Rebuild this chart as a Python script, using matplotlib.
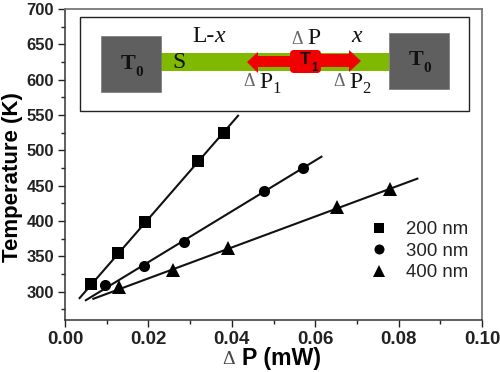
import matplotlib
matplotlib.use("Agg")
import matplotlib.pyplot as plt
from matplotlib.patches import Rectangle, FancyBboxPatch, Polygon
from matplotlib.ticker import MultipleLocator, FormatStrFormatter

# measured points
x200 = [0.0063, 0.0128, 0.0192, 0.0320, 0.0382]
t200 = [311, 355, 399, 485, 524]
x300 = [0.0095, 0.0190, 0.0285, 0.0478, 0.0570]
t300 = [309, 337, 370, 442, 475]
x400 = [0.0130, 0.0260, 0.0390, 0.0653, 0.0780]
t400 = [307, 331, 362, 420, 446]

# fit lines, end points
fit200_x = [0.0035, 0.0415]
fit200_t = [291, 549]
fit300_x = [0.0050, 0.0615]
fit300_t = [288, 491]
fit400_x = [0.0068, 0.0845]
fit400_t = [290, 460]

labels = ["200 nm", "300 nm", "400 nm"]
markers = ["s", "o", "^"]
sizes = [8, 8, 9.5]

W, H = 500, 372
plt.rcParams["font.family"] = ["Liberation Sans", "DejaVu Sans"]

fig = plt.figure(figsize=(W / 100, H / 100), dpi=100)
ax = fig.add_axes([65 / W, 1 - 320 / H, 417 / W, 311 / H])

for xs, ts, fx, ft, m, ms, lab in zip(
    [x200, x300, x400], [t200, t300, t400],
    [fit200_x, fit300_x, fit400_x], [fit200_t, fit300_t, fit400_t],
    markers, sizes, labels,
):
    ax.plot(fx, ft, color="#111111", lw=1.5, zorder=2)
    ax.plot(xs, ts, ls="none", marker=m, color="black", ms=ms, mew=0, zorder=3, label=lab)

ax.set_xlim(0, 0.10)
ax.set_ylim(260, 700)
ax.xaxis.set_major_locator(MultipleLocator(0.02))
ax.xaxis.set_minor_locator(MultipleLocator(0.01))
ax.yaxis.set_major_locator(MultipleLocator(50))
ax.yaxis.set_minor_locator(MultipleLocator(25))
ax.xaxis.set_major_formatter(FormatStrFormatter("%.2f"))
ax.tick_params(which="major", length=5, width=1, pad=3, color="#222222")
ax.tick_params(which="minor", length=3, width=1, color="#222222")
ax.tick_params(axis="x", labelsize=13.5)
ax.tick_params(axis="y", labelsize=12)
for t in ax.get_xticklabels() + ax.get_yticklabels():
    t.set_fontweight("bold")
    t.set_color("#222222")
for s in ["top", "right"]:
    ax.spines[s].set_color("#777777")
    ax.spines[s].set_linewidth(1.3)
for s in ["left", "bottom"]:
    ax.spines[s].set_color("#333333")
    ax.spines[s].set_linewidth(1.1)

fig.text(13 / W, 1 - 177 / H, "Temperature (K)", rotation=90, ha="center", va="center",
         fontsize=16, fontweight="bold")
fig.text(235 / W, 1 - 360 / H, "Δ", ha="right", va="center", fontsize=14, color="#444444",
         family="Liberation Serif")
fig.text(242 / W, 1 - 358 / H, "P (mW)", ha="left", va="center", fontsize=16.7, fontweight="bold")

ax.legend(loc="lower right", bbox_to_anchor=(1.007, 0.07), frameon=False, fontsize=13.4,
          handletextpad=0.95, labelspacing=0.24, handlelength=1.0, labelcolor="#222222",
          markerscale=0.9)

# schematic inset, drawn in pixel coordinates
sk = fig.add_axes([0, 0, 1, 1], facecolor="none")
sk.set_xlim(0, W)
sk.set_ylim(H, 0)
sk.axis("off")
sk.add_patch(Rectangle((79.5, 17), 389.5, 94, fc="white", ec="#222222", lw=1))
sk.add_patch(Rectangle((160, 53), 229, 18, fc="#7FBA00", ec="none"))
sk.add_patch(Rectangle((100.5, 36), 60, 56, fc="#5f5f5f", ec="#777777", lw=0.5))
sk.add_patch(Rectangle((389, 33), 60, 56, fc="#5f5f5f", ec="#777777", lw=0.5))
sk.add_patch(Polygon([(247, 62), (258, 52), (258, 56), (290, 56), (290, 67), (258, 67), (258, 73)],
                     fc="#F00000", ec="none"))
sk.add_patch(Polygon([(361, 61), (349, 50), (349, 54), (320, 54), (320, 67), (349, 67), (349, 72)],
                     fc="#F00000", ec="none"))
sk.add_patch(FancyBboxPatch((293, 53), 25, 17, boxstyle="round,pad=3,rounding_size=4",
                            fc="#F00000", ec="none"))


def serif(x, y, s, size=17, **kw):
    sk.text(x, y, s, family="Liberation Serif", fontsize=size, ha="left", va="center",
            color=kw.pop("color", "#111111"), **kw)


def delta_p(x, y, sub=None):
    serif(x, y, "Δ", size=13, color="#666666")
    serif(x + 16, y, "P", size=17)
    if sub:
        serif(x + 29, y + 7, sub, size=12)


def temp(x, y, sub, family="Liberation Serif", size=16, sub_size=11):
    sk.text(x, y, "T", family=family, fontsize=size, fontweight="bold", ha="left", va="center",
            color="#111111")
    sk.text(x + size * 0.88, y + 8, sub, family=family, fontsize=sub_size, fontweight="bold",
            ha="left", va="center", color="#111111")


temp(121, 64, "0")
temp(409, 60, "0")
temp(300, 60, "1", family="Liberation Sans", size=12.5, sub_size=8.5)
serif(172, 63, "S")
serif(192, 36, "L-")
serif(214, 36, "x", style="italic")
serif(351, 36, "x", style="italic")
delta_p(291, 39)
delta_p(243, 82, "1")
delta_p(333, 82, "2")

fig.savefig("out.png", dpi=100)
